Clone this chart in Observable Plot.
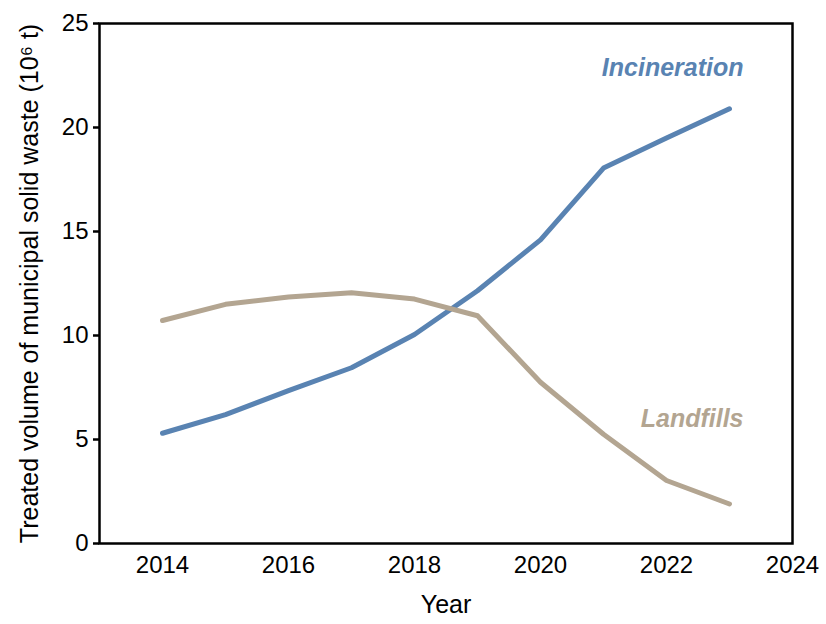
<!DOCTYPE html>
<html>
<head>
<meta charset="utf-8">
<script src="https://cdn.jsdelivr.net/npm/d3@7"></script>
<script src="https://cdn.jsdelivr.net/npm/@observablehq/plot@0.6"></script>
<style>
  html, body { margin: 0; padding: 0; background: #fff; }
  #chart svg { display: block; }
</style>
</head>
<body>
<div id="chart"></div>
<script>
const years = [2014, 2015, 2016, 2017, 2018, 2019, 2020, 2021, 2022, 2023];
const incineration = [5.3, 6.2, 7.35, 8.45, 10.05, 12.15, 14.6, 18.05, 19.5, 20.9];
const landfills = [10.72, 11.5, 11.85, 12.05, 11.75, 10.95, 7.75, 5.25, 3.03, 1.9];
const xTicks = [2014, 2016, 2018, 2020, 2022, 2024];
const yTicks = [0, 5, 10, 15, 20, 25];
const seriesNames = ["Incineration", "Landfills"];
const seriesColors = ["#5983b2", "#b3a591"];
const xLabel = "Year";
const yLabel = "Treated volume of municipal solid waste (10\u2076 t)";

const rows = [];
years.forEach((yr, i) => {
  rows.push({year: yr, value: incineration[i], series: seriesNames[0]});
  rows.push({year: yr, value: landfills[i], series: seriesNames[1]});
});

const font = "'Liberation Sans', Arial, Helvetica, sans-serif";

const chart = Plot.plot({
  width: 826,
  height: 624,
  marginLeft: 99,
  marginRight: 34,
  marginTop: 23,
  marginBottom: 81,
  style: {fontFamily: font, background: "#fff", color: "#000"},
  x: {domain: [2013, 2024], ticks: xTicks, tickFormat: d => String(d)},
  y: {domain: [0, 25], ticks: yTicks},
  color: {domain: seriesNames, range: seriesColors},
  marks: [
    Plot.axisX({ticks: xTicks, tickFormat: d => String(d), tickSize: 0, tickPadding: 12, fontSize: 24, label: null, fill: "#000"}),
    Plot.axisY({ticks: yTicks, tickSize: 6, tickPadding: 5, fontSize: 24, label: null, strokeWidth: 2.5, fill: "#000", stroke: "#000"}),
    Plot.line(rows, {x: "year", y: "value", z: "series", stroke: "series", strokeWidth: 5, strokeLinecap: "round", strokeLinejoin: "round"}),
    Plot.frame({stroke: "#000", strokeWidth: 2.5}),
    Plot.text([seriesNames[0]], {frameAnchor: "top-right", textAnchor: "end", lineAnchor: "middle", dx: -49, dy: 44, fontSize: 25, fontWeight: "bold", fontStyle: "italic", fill: seriesColors[0]}),
    Plot.text([seriesNames[1]], {frameAnchor: "bottom-right", textAnchor: "end", lineAnchor: "middle", dx: -49, dy: -125, fontSize: 25, fontWeight: "bold", fontStyle: "italic", fill: seriesColors[1]}),
    Plot.text([xLabel], {frameAnchor: "bottom", textAnchor: "middle", lineAnchor: "middle", dy: 61, fontSize: 25, fill: "#000"}),
    Plot.text([yLabel], {frameAnchor: "left", rotate: -90, textAnchor: "middle", lineAnchor: "middle", dx: -70, dy: 0, fontSize: 25, fill: "#000"})
  ]
});
document.getElementById("chart").appendChild(chart);
</script>
</body>
</html>
